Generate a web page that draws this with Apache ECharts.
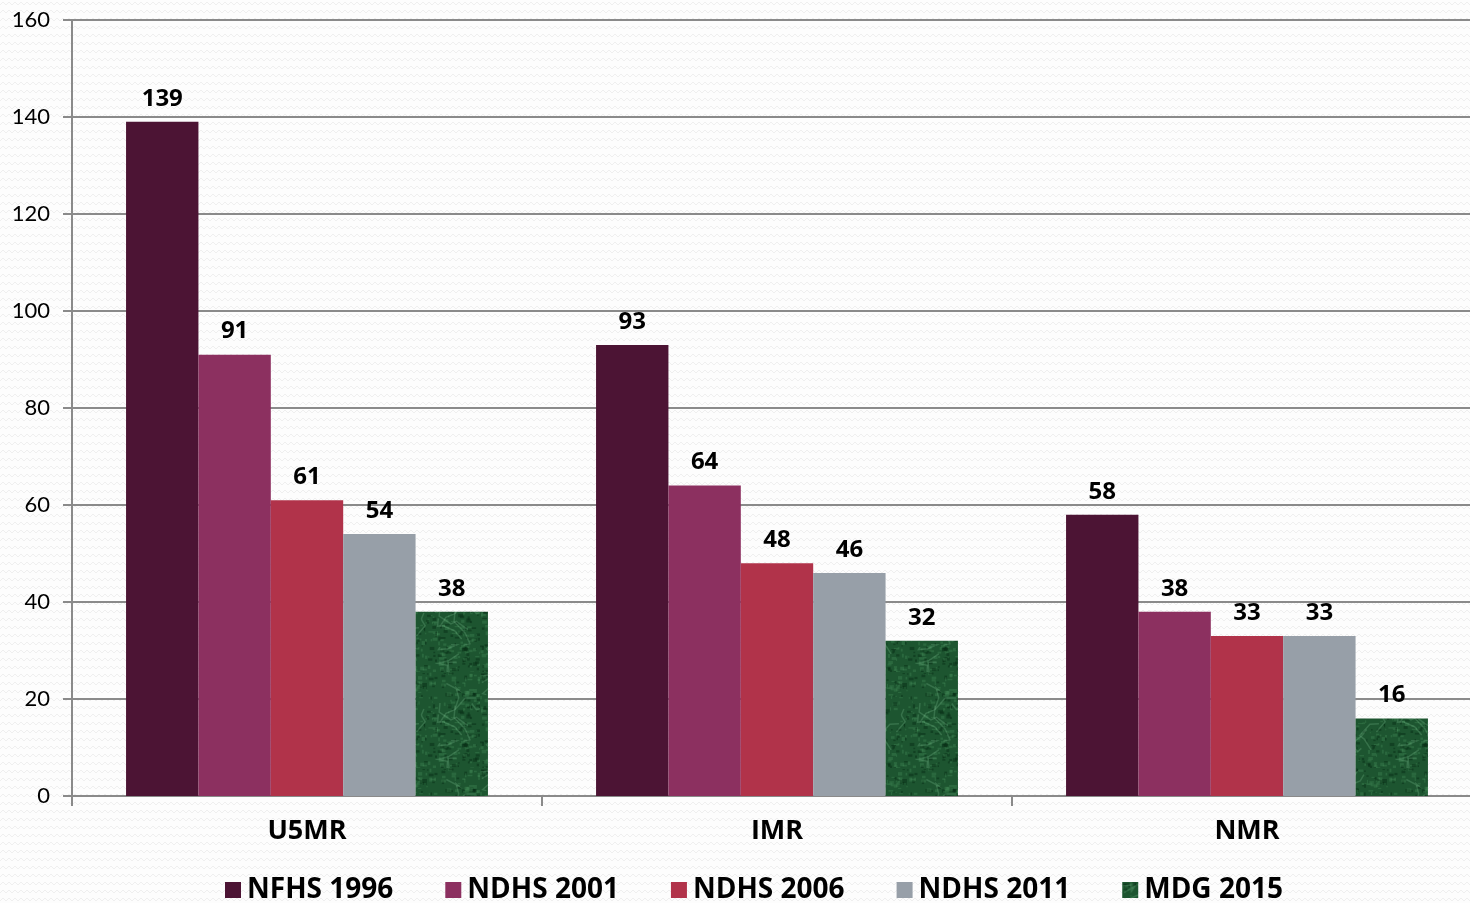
<!DOCTYPE html>
<html>
<head>
<meta charset="utf-8">
<script src="https://cdn.jsdelivr.net/npm/echarts@6/dist/echarts.min.js"></script>
<style>
  html, body { margin: 0; padding: 0; background: #fbfbfb; overflow: hidden; }
  #chart { width: 1482px; height: 903px; }
</style>
</head>
<body>
<div id="chart"></div>
<script>
// data
const categories = ['U5MR', 'IMR', 'NMR'];
const seriesNames = ['NFHS 1996', 'NDHS 2001', 'NDHS 2006', 'NDHS 2011', 'MDG 2015'];
const nfhs1996 = [139, 93, 58];
const ndhs2001 = [91, 64, 38];
const ndhs2006 = [61, 48, 33];
const ndhs2011 = [54, 46, 33];
const mdg2015 = [38, 32, 16];
const yTicks = [0, 20, 40, 60, 80, 100, 120, 140, 160];

// subtle zigzag background
function bgPattern() {
  const c = document.createElement('canvas');
  c.width = 12; c.height = 8;
  const g = c.getContext('2d');
  g.fillStyle = '#fdfdfd';
  g.fillRect(0, 0, 12, 8);
  g.strokeStyle = '#efefef';
  g.lineWidth = 1;
  g.beginPath();
  g.moveTo(0, 5); g.lineTo(3, 2); g.lineTo(6, 5); g.lineTo(9, 2); g.lineTo(12, 5);
  g.stroke();
  return c;
}

// marble-ish green texture
function greenPattern() {
  const c = document.createElement('canvas');
  c.width = 96; c.height = 96;
  const g = c.getContext('2d');
  g.fillStyle = '#1d5530';
  g.fillRect(0, 0, 96, 96);
  let s = 11;
  const rnd = () => { s = (s * 9301 + 49297) % 233280; return s / 233280; };
  for (let i = 0; i < 400; i++) {
    const x = rnd() * 96, y = rnd() * 96;
    g.fillStyle = rnd() > 0.45 ? 'rgba(70,140,90,0.35)' : 'rgba(8,45,22,0.5)';
    g.fillRect(x, y, 1 + rnd() * 4, 1 + rnd() * 3);
  }
  g.strokeStyle = 'rgba(130,200,150,0.25)';
  g.lineWidth = 1.5;
  for (let i = 0; i < 14; i++) {
    g.beginPath();
    let x = rnd() * 96, y = rnd() * 96;
    g.moveTo(x, y);
    for (let k = 0; k < 4; k++) {
      x += (rnd() - 0.5) * 24; y += (rnd() - 0.3) * 18;
      g.lineTo(x, y);
    }
    g.stroke();
  }
  return c;
}

const colors = ['#4c1434', '#8c3060', '#b1334a', '#979fa8', '#1f5a32'];
const font = 'Lato, "Open Sans", sans-serif';
const boldFont = '"Open Sans", Lato, sans-serif';
const green = { image: greenPattern(), repeat: 'repeat' };

const dataSets = [nfhs1996, ndhs2001, ndhs2006, ndhs2011, mdg2015];

const chart = echarts.init(document.getElementById('chart'));
chart.setOption({
  backgroundColor: { image: bgPattern(), repeat: 'repeat' },
  animation: false,
  textStyle: { fontFamily: font },
  grid: { left: 72, right: 0, top: 20, bottom: 107 },
  legend: {
    bottom: -6,
    left: 220,
    itemWidth: 16,
    itemHeight: 16,
    itemGap: 52,
    icon: 'rect',
    textStyle: { fontSize: 28, fontWeight: 'bold', color: '#000', fontFamily: boldFont, padding: [0, 0, 0, 1] },
    data: seriesNames.map((n, i) => ({ name: n, itemStyle: { color: i === 4 ? green : colors[i] } }))
  },
  xAxis: {
    type: 'category',
    data: categories,
    axisLine: { lineStyle: { color: '#8a8a8a', width: 2 } },
    axisTick: { show: true, length: 10, lineStyle: { color: '#8a8a8a', width: 2 } },
    axisLabel: { fontSize: 27, fontWeight: 'bold', color: '#000', margin: 22, fontFamily: boldFont }
  },
  yAxis: {
    type: 'value',
    min: yTicks[0],
    max: yTicks[yTicks.length - 1],
    interval: 20,
    axisLine: { show: true, lineStyle: { color: '#8a8a8a', width: 2 } },
    axisTick: { show: true, length: 9, lineStyle: { color: '#8a8a8a', width: 2 } },
    axisLabel: { fontSize: 22, color: '#000', margin: 22, fontFamily: font },
    splitLine: { lineStyle: { color: '#8a8a8a', width: 2 } }
  },
  series: dataSets.map((d, i) => ({
    type: 'bar',
    name: seriesNames[i],
    data: d,
    barGap: '0%',
    barCategoryGap: '23%',
    itemStyle: { color: i === 4 ? green : colors[i] },
    label: {
      show: true,
      position: 'top',
      distance: 11,
      fontSize: 24,
      fontWeight: 'bold',
      color: '#000',
      fontFamily: boldFont
    }
  })),
  color: colors
});
</script>
</body>
</html>
